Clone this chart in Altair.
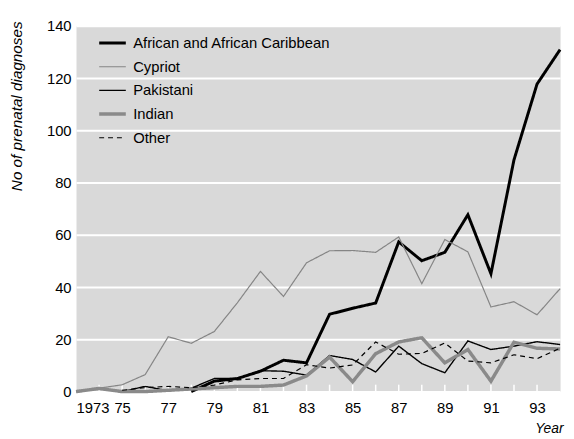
import altair as alt
import pandas as pd

african_years = list(range(1978, 1995))
african = [0, 4, 5, 7.8, 12, 11, 29.6, 31.9, 33.9, 57.3, 50.1, 53.3, 67.7, 45.1, 88.7, 117.7, 130.9]

cypriot_years = list(range(1973, 1995))
cypriot = [0, 1.3, 2.6, 6.5, 21, 18.5, 23, 34, 46, 36.4, 49.3, 53.9, 54, 53.3, 59.2, 41.3, 58.2, 53.5, 32.4, 34.4, 29.4, 39.4]

pakistani_years = list(range(1975, 1995))
pakistani = [0, 2, 0.3, 1.3, 5, 5, 8, 7.8, 6.3, 13.8, 12.3, 7.5, 17.4, 10.7, 7.2, 19.4, 16.1, 17.4, 19.1, 18]

indian_years = list(range(1973, 1995))
indian = [0, 1.2, 0, 0, 0.5, 1, 1.5, 2, 2, 2.5, 6, 13.2, 3.8, 14.5, 19, 20.6, 11, 16.1, 4, 18.9, 16.6, 16.3]

other_years = list(range(1975, 1995))
other = [0.5, 1.5, 2, 1.5, 2.5, 4.5, 5, 5, 10.3, 9, 10.2, 19, 14.3, 14.6, 18.6, 11.7, 11, 14.1, 12.6, 16.6]

groups = ["African and African Caribbean", "Cypriot", "Pakistani", "Indian", "Other"]
colors = ["#000000", "#858585", "#000000", "#8a8a8a", "#000000"]
widths = [3, 1.2, 1.4, 3.5, 1.2]
dashes = [[1, 0], [1, 0], [1, 0], [1, 0], [5, 4]]

tick_years = list(range(1974, 1994))
label_years = list(range(1973, 1994, 2))

rows = []
for g, ys, vs in [
    (groups[0], african_years, african),
    (groups[1], cypriot_years, cypriot),
    (groups[2], pakistani_years, pakistani),
    (groups[3], indian_years, indian),
    (groups[4], other_years, other),
]:
    for y, v in zip(ys, vs):
        rows.append({"year": y, "value": v, "group": g})
df = pd.DataFrame(rows)

FONT = "Liberation Sans"

xscale = alt.Scale(domain=[1973, 1994], nice=False, zero=False)

ticks = alt.Chart(pd.DataFrame({"year": tick_years})).mark_rule(
    color="white", strokeWidth=1.5
).encode(
    x=alt.X("year:Q", scale=xscale),
    y=alt.value(364),
    y2=alt.value(371),
)

lines = alt.Chart(df).mark_line().encode(
    x=alt.X(
        "year:Q",
        scale=xscale,
        axis=alt.Axis(
            values=label_years,
            labelExpr="datum.value == 1973 ? '1973' : substring(toString(datum.value), 2)",
            grid=False,
            ticks=False,
            domain=False,
            labelPadding=9,
            labelFontSize=15,
            labelFont=FONT,
            labelColor="#000",
            title="Year",
            titleFont=FONT,
            titleFontSize=14,
            titleFontStyle="italic",
            titleFontWeight="normal",
            titleColor="#000",
            titleAlign="right",
            titleBaseline="top",
            titleX=494,
            titleY=30,
        ),
    ),
    y=alt.Y(
        "value:Q",
        scale=alt.Scale(domain=[0, 140], nice=False),
        axis=alt.Axis(
            values=[0, 20, 40, 60, 80, 100, 120, 140],
            grid=True,
            gridColor="white",
            gridWidth=2,
            ticks=False,
            domain=False,
            labelPadding=5,
            labelFontSize=15,
            labelFont=FONT,
            labelColor="#000",
            title="No of prenatal diagnoses",
            titleFont=FONT,
            titleFontSize=15.5,
            titleFontStyle="italic",
            titleFontWeight="normal",
            titleColor="#000",
            titleAlign="right",
            titleBaseline="bottom",
            titleX=-52,
            titleY=-5,
        ),
    ),
    color=alt.Color(
        "group:N",
        scale=alt.Scale(domain=groups, range=colors),
        legend=alt.Legend(
            title=None,
            orient="none",
            legendX=29.5,
            legendY=10,
            symbolType="M-2.7,0H2.7",
            symbolSize=100,
            labelFont=FONT,
            labelFontSize=15,
            labelColor="#000",
            labelOffset=13.5,
            labelLimit=0,
            rowPadding=8,
        ),
    ),
    strokeWidth=alt.StrokeWidth(
        "group:N",
        scale=alt.Scale(type="ordinal", domain=groups, range=widths),
        legend=alt.Legend(title=None),
    ),
    strokeDash=alt.StrokeDash(
        "group:N",
        scale=alt.Scale(domain=groups, range=dashes),
        legend=alt.Legend(title=None),
    ),
)

chart = alt.layer(ticks, lines).properties(
    width=491,
    height=371,
    autosize="none",
    padding={"left": 69, "top": 15, "right": 6, "bottom": 45},
    background="white",
).configure_view(fill="#d9d9d9", stroke="transparent")

chart.save("out.html", embed_options={"renderer": "svg", "actions": False})
